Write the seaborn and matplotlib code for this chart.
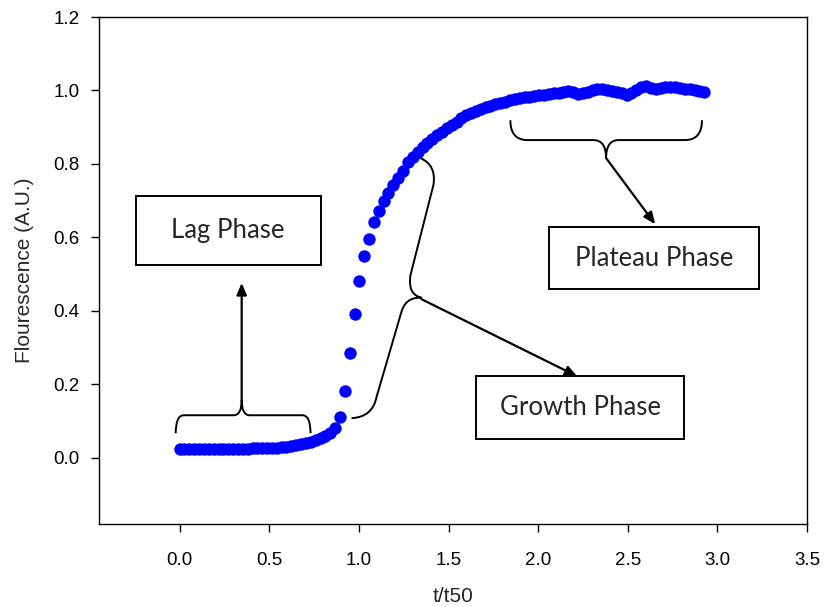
import numpy as np
import pandas as pd
import matplotlib
matplotlib.use("Agg")
import matplotlib.pyplot as plt
import seaborn as sns
from matplotlib.path import Path
from matplotlib.patches import PathPatch, Rectangle, FancyArrowPatch

# ---- data ----
t_over_t50 = [
    0.000, 0.027, 0.054, 0.081, 0.108, 0.136, 0.163, 0.190, 0.217, 0.244,
    0.271, 0.298, 0.325, 0.352, 0.379, 0.407, 0.434, 0.461, 0.488, 0.515,
    0.542, 0.569, 0.596, 0.623, 0.650, 0.678, 0.705, 0.732, 0.759, 0.786,
    0.813, 0.840, 0.867, 0.894, 0.921, 0.949, 0.976, 1.003, 1.030, 1.057,
    1.084, 1.111, 1.138, 1.165, 1.192, 1.220, 1.247, 1.274, 1.301, 1.328,
    1.355, 1.382, 1.409, 1.436, 1.463, 1.491, 1.518, 1.545, 1.572, 1.599,
    1.626, 1.653, 1.680, 1.707, 1.734, 1.762, 1.789, 1.816, 1.843, 1.870,
    1.897, 1.924, 1.951, 1.978, 2.005, 2.033, 2.060, 2.087, 2.114, 2.141,
    2.168, 2.195, 2.222, 2.249, 2.276, 2.304, 2.331, 2.358, 2.385, 2.412,
    2.439, 2.466, 2.493, 2.520, 2.547, 2.575, 2.602, 2.629, 2.656, 2.683,
    2.710, 2.737, 2.764, 2.791, 2.818, 2.846, 2.873, 2.900, 2.927,
]
fluorescence = [
    0.024, 0.024, 0.024, 0.024, 0.024, 0.024, 0.024, 0.024, 0.024, 0.024,
    0.025, 0.025, 0.025, 0.025, 0.025, 0.026, 0.026, 0.026, 0.026, 0.027,
    0.028, 0.029, 0.030, 0.032, 0.034, 0.037, 0.040, 0.044, 0.049, 0.054,
    0.060, 0.068, 0.080, 0.112, 0.182, 0.286, 0.392, 0.482, 0.549, 0.596,
    0.641, 0.672, 0.698, 0.721, 0.744, 0.762, 0.781, 0.804, 0.818, 0.832,
    0.846, 0.858, 0.868, 0.878, 0.888, 0.897, 0.906, 0.915, 0.925, 0.934,
    0.940, 0.945, 0.950, 0.954, 0.958, 0.962, 0.966, 0.970, 0.975, 0.978,
    0.979, 0.981, 0.983, 0.985, 0.987, 0.989, 0.990, 0.992, 0.994, 0.996,
    0.999, 0.996, 0.991, 0.993, 0.997, 1.000, 1.003, 1.005, 1.002, 0.998,
    0.995, 0.992, 0.988, 0.993, 1.002, 1.010, 1.012, 1.008, 1.005, 1.007,
    1.009, 1.010, 1.009, 1.006, 1.005, 1.003, 1.001, 0.998, 0.997,
]
x_ticks = [0.0, 0.5, 1.0, 1.5, 2.0, 2.5, 3.0, 3.5]
y_ticks = [0.0, 0.2, 0.4, 0.6, 0.8, 1.0, 1.2]
phase_labels = ["Lag Phase", "Growth Phase", "Plateau Phase"]

df = pd.DataFrame({"t/t50": t_over_t50, "Flourescence (A.U.)": fluorescence})

sns.set_style("ticks")
plt.rcParams["font.family"] = ["Liberation Sans", "DejaVu Sans"]

W, H = 824, 607
fig = plt.figure(figsize=(W / 100, H / 100), dpi=100)
ax = fig.add_axes([99 / W, 1 - 524 / H, (807 - 99) / W, (524 - 17) / H])

sns.scatterplot(data=df, x="t/t50", y="Flourescence (A.U.)", ax=ax,
                color="#0000ff", s=80, linewidth=0, zorder=3)

ax.set_xlim(-0.45, 3.5)
ax.set_ylim(-0.18, 1.2)
ax.set_xticks(x_ticks)
ax.set_yticks(y_ticks)
ax.set_xticklabels([f"{v:.1f}" for v in x_ticks])
ax.set_yticklabels([f"{v:.1f}" for v in y_ticks])
ax.tick_params(axis="both", direction="out", length=6, width=1.0,
               labelsize=13.5, color="black", labelcolor="black")
ax.tick_params(axis="y", pad=8)
ax.tick_params(axis="x", pad=14)
for s in ax.spines.values():
    s.set_visible(True)
    s.set_color("black")
    s.set_linewidth(1.0)
ax.set_xlabel("t/t50", fontsize=15, labelpad=13)
ax.set_ylabel("Flourescence (A.U.)", fontsize=15, labelpad=14)

lw = 1.4

def hbrace(x0, x1, xc, ytip, ybar, ypeak, r, rc):
    verts = [(x0, ytip), (x0, ybar), (x0 + r, ybar),
             (xc - rc, ybar), (xc, ybar), (xc, ypeak),
             (xc, ybar), (xc + rc, ybar),
             (x1 - r, ybar), (x1, ybar), (x1, ytip)]
    codes = [Path.MOVETO, Path.CURVE3, Path.CURVE3,
             Path.LINETO, Path.CURVE3, Path.CURVE3,
             Path.CURVE3, Path.CURVE3,
             Path.LINETO, Path.CURVE3, Path.CURVE3]
    ax.add_patch(PathPatch(Path(verts, codes), fill=False, lw=lw,
                           edgecolor="black", zorder=4))

def arrow(p0, p1):
    ax.add_patch(FancyArrowPatch(p0, p1, arrowstyle="-|>,head_length=0.7,head_width=0.3",
                                 mutation_scale=10, lw=1.6, color="black", zorder=4,
                                 shrinkA=0, shrinkB=0))

# lag brace + arrow
hbrace(-0.022, 0.730, 0.346, 0.067, 0.116, 0.157, 0.045, 0.045)
arrow((0.346, 0.157), (0.346, 0.476))

# plateau brace + arrow
hbrace(1.845, 2.914, 2.379, 0.919, 0.865, 0.816, 0.095, 0.07)
arrow((2.379, 0.816), (2.653, 0.636))

# growth brace (slanted) + arrow
gverts = [(1.343, 0.816), (1.433, 0.797), (1.416, 0.743),
          (1.288, 0.498), (1.271, 0.444), (1.349, 0.436),
          (1.260, 0.438), (1.237, 0.397),
          (1.098, 0.165), (1.076, 0.111), (0.959, 0.108)]
gcodes = [Path.MOVETO, Path.CURVE3, Path.CURVE3,
          Path.LINETO, Path.CURVE3, Path.CURVE3,
          Path.CURVE3, Path.CURVE3,
          Path.LINETO, Path.CURVE3, Path.CURVE3]
ax.add_patch(PathPatch(Path(gverts, gcodes), fill=False, lw=lw,
                       edgecolor="black", zorder=4))
arrow((1.349, 0.432), (2.218, 0.222))

# boxes with labels
boxes = [(-0.245, 0.525, 0.786, 0.712),
         (1.656, 0.051, 2.815, 0.223),
         (2.062, 0.459, 3.233, 0.628)]
for (bx0, by0, bx1, by1), lab in zip(boxes, phase_labels):
    ax.add_patch(Rectangle((bx0, by0), bx1 - bx0, by1 - by0, fill=True,
                           facecolor="white", edgecolor="black", lw=1.4, zorder=5))
    ax.text((bx0 + bx1) / 2, (by0 + by1) / 2, lab, ha="center", va="center",
            fontsize=18.5, family=["Lato", "DejaVu Sans"], zorder=6)

fig.savefig("out.png", dpi=100)
